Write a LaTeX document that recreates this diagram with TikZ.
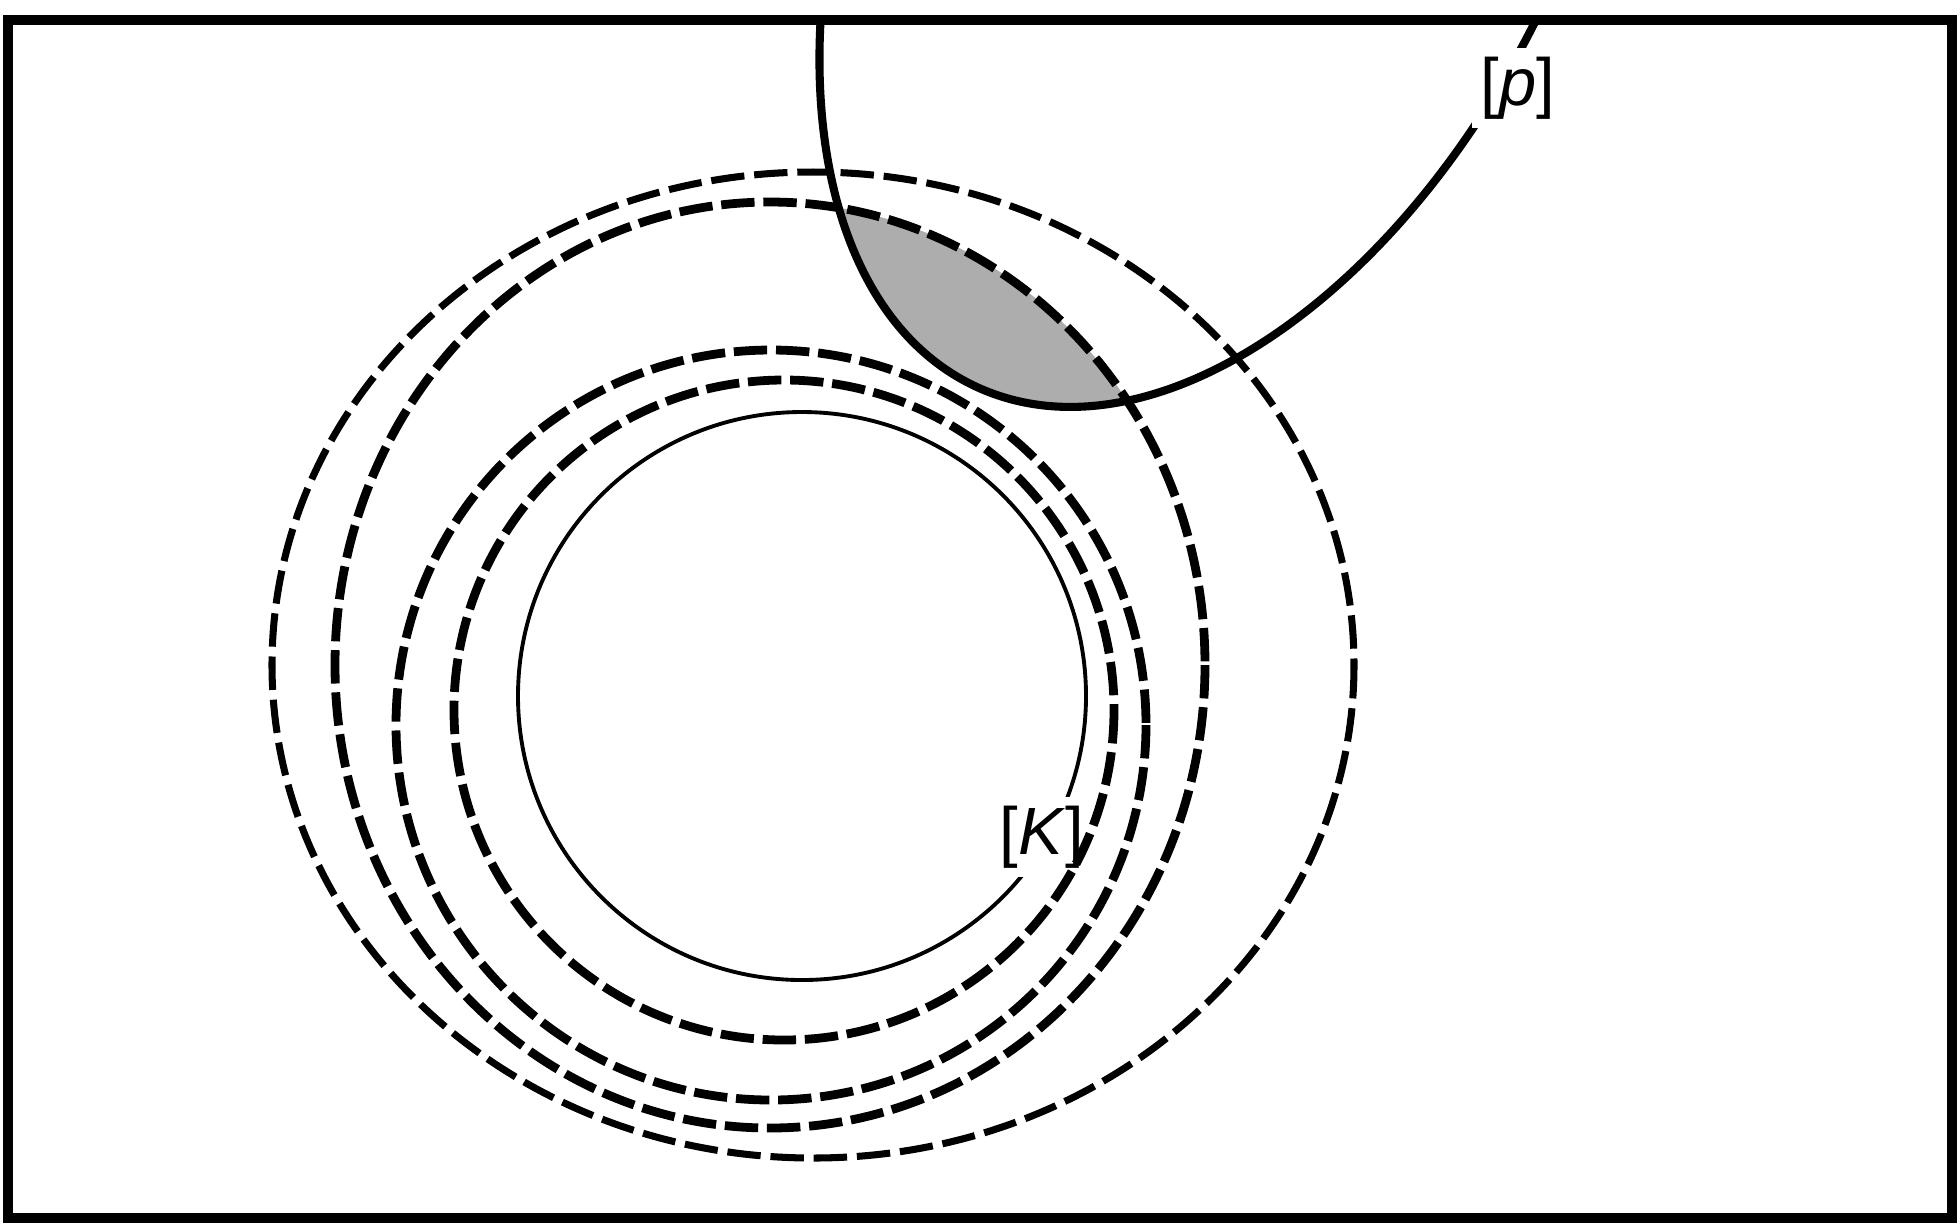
\documentclass[tikz,border=0pt]{standalone}
\usepackage{fontspec}
\setmainfont{Liberation Sans}
\usetikzlibrary{calc}
\tikzset{
  levelset/.style = {line width=2.5pt, dash pattern=on 9.5pt off 2.5pt},
  outerset/.style = {line width=2pt, dash pattern=on 9.5pt off 2.8pt},
  setlabel/.style = {fill=white, inner sep=2.5pt, font=\fontsize{19pt}{22pt}\selectfont}
}
\begin{document}
\begin{tikzpicture}[x=0.01cm, y=-0.01cm]
\useasboundingbox (0,0) rectangle (1960,1226);
\coordinate (O) at (802,696);
\coordinate (P) at (1228.6,-159.8);
\begin{scope}
\clip (770,665) ellipse [x radius=435, y radius=463];
\fill[black!32, shift={(P)}, rotate=65.27] (0,0) ellipse [x radius=602, y radius=355];
\end{scope}
\draw[line width=1.1pt] (O) circle [radius=284];
\begin{scope}
\clip (8,20) rectangle (1952,1218);
\draw[line width=2.3pt, shift={(P)}, rotate=65.27] (0,0) ellipse [x radius=602, y radius=355];
\end{scope}
\node[setlabel] (K) at (1042,837) {[\textit{K}]};
\node[setlabel] (p) at (1518,88) {[\textit{p}]};
\draw[levelset] (784,710) circle [radius=330];
\draw[levelset] (771,725) circle [radius=375];
\draw[levelset] (770,665) ellipse [x radius=435, y radius=463];
\draw[outerset] (813,665) ellipse [x radius=541, y radius=493];
\draw[line width=3pt] (8,20) rectangle (1952,1218);
\end{tikzpicture}
\end{document}
